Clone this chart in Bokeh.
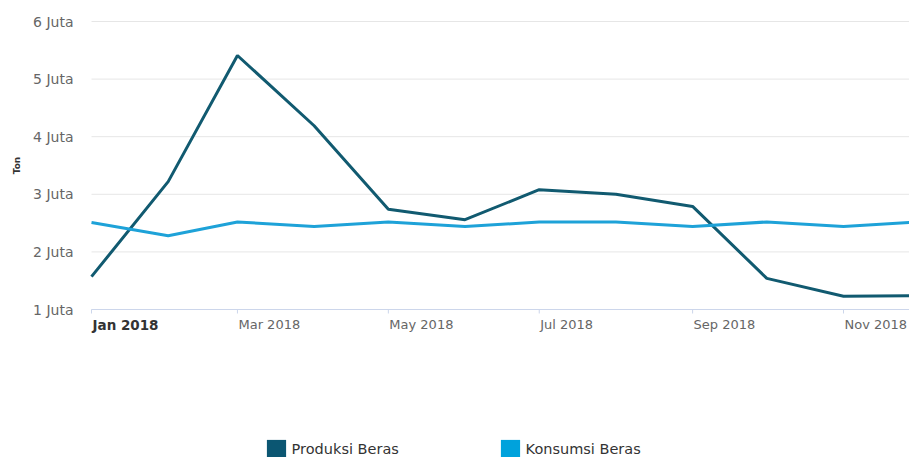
import math
import pandas as pd
from bokeh.plotting import figure
from bokeh.models import Range1d, Label, Legend, LegendItem
from bokeh.embed import file_html
from bokeh.resources import INLINE

# ---- data ----
months = ["2018-01-01", "2018-02-01", "2018-03-01", "2018-04-01", "2018-05-01",
          "2018-06-01", "2018-07-01", "2018-08-01", "2018-09-01", "2018-10-01",
          "2018-11-01", "2018-12-01"]
produksi_beras = [1.57, 3.22, 5.41, 4.19, 2.74, 2.56, 3.08, 3.00, 2.79, 1.54, 1.23, 1.24]
konsumsi_beras = [2.51, 2.28, 2.52, 2.44, 2.52, 2.44, 2.52, 2.52, 2.44, 2.52, 2.44, 2.52]
y_ticks = [1, 2, 3, 4, 5, 6]
y_tick_labels = ["1 Juta", "2 Juta", "3 Juta", "4 Juta", "5 Juta", "6 Juta"]
x_tick_months = ["2018-01-01", "2018-03-01", "2018-05-01", "2018-07-01",
                 "2018-09-01", "2018-11-01"]
x_tick_labels = ["Jan 2018", "Mar 2018", "May 2018", "Jul 2018", "Sep 2018", "Nov 2018"]
y_axis_title = "Ton"
series_names = ["Produksi Beras", "Konsumsi Beras"]
colors = ["#115a70", "#1ea2d8"]
legend_colors = ["#0b5672", "#00a2dc"]

# ---- layout constants (pixels) ----
W, H = 909, 457
plot_left, plot_top, plot_bottom = 91, 21, 309
px_per_day = 2.4737

epoch = pd.Timestamp("1970-01-01")
def to_ms(s):
    return float((pd.Timestamp(s) - epoch) / pd.Timedelta(milliseconds=1))

day_ms = 86400000.0
x_dates = pd.to_datetime(months)
tick_ms = [to_ms(m) for m in x_tick_months]
x_first = to_ms(months[0])
x_start = x_first - plot_left / px_per_day * day_ms
x_end = x_start + W / px_per_day * day_ms

px_per_unit = (plot_bottom - plot_top) / (y_ticks[-1] - y_ticks[0])
y_start = y_ticks[0] - (H - plot_bottom) / px_per_unit
y_end = y_ticks[-1] + plot_top / px_per_unit

p = figure(width=W, height=H, x_axis_type="datetime",
           x_range=Range1d(x_start, x_end), y_range=Range1d(y_start, y_end),
           output_backend="svg", toolbar_location=None,
           min_border=0, min_border_left=0, min_border_right=0,
           min_border_top=0, min_border_bottom=0)
p.outline_line_color = None
p.xaxis.visible = False
p.yaxis.visible = False
p.xgrid.grid_line_color = None
p.ygrid.grid_line_color = None
p.background_fill_color = "white"
p.border_fill_color = "white"

# horizontal grid lines
p.segment(x0=[x_first] * len(y_ticks), x1=[x_end] * len(y_ticks),
          y0=y_ticks, y1=y_ticks, line_color="#e6e6e6", line_width=1)
# x axis line and tick marks
p.segment(x0=[x_first], x1=[x_end], y0=[y_ticks[0]], y1=[y_ticks[0]],
          line_color="#ccd6eb", line_width=1)
tick_len = 4 / px_per_unit
p.segment(x0=tick_ms, x1=tick_ms, y0=[y_ticks[0]] * len(tick_ms),
          y1=[y_ticks[0] - tick_len] * len(tick_ms), line_color="#ccd6eb", line_width=1)

# series
p.line(x_dates, produksi_beras, line_color=colors[0], line_width=3)
p.line(x_dates, konsumsi_beras, line_color=colors[1], line_width=3)

# y tick labels
for v, lab in zip(y_ticks, y_tick_labels):
    p.add_layout(Label(x=73, x_units="screen", y=v, text=lab,
                       text_align="right", text_baseline="middle",
                       text_font="DejaVu Sans", text_font_size="14px",
                       text_color="#666666"))
# y axis title
p.add_layout(Label(x=16, x_units="screen", y=(y_ticks[0] + y_ticks[-1]) / 2,
                   text=y_axis_title, angle=math.pi / 2,
                   text_align="center", text_baseline="middle",
                   text_font="DejaVu Sans", text_font_size="9px",
                   text_font_style="bold", text_color="#333333"))

# x tick labels (left aligned at tick, first one bold)
for ms, lab in zip(tick_ms, x_tick_labels):
    bold = lab == x_tick_labels[0]
    p.add_layout(Label(x=ms, y=y_ticks[0], y_offset=-15, text=lab, x_offset=1,
                       text_align="left", text_baseline="middle",
                       text_font="DejaVu Sans",
                       text_font_size="13.5px" if bold else "13px",
                       text_font_style="bold" if bold else "normal",
                       text_color="#333333" if bold else "#666666"))

# legend (two separate legends for exact placement); proxy renderers draw nothing
nan = float("nan")
leg_x = [263.6, 497.6]
for name, col, lx in zip(series_names, legend_colors, leg_x):
    r = p.quad(left=[nan], right=[nan], top=[nan], bottom=[nan],
               fill_color=col, line_color=None)
    leg = Legend(items=[LegendItem(label=name, renderers=[r])],
                 location=(lx, -3.6), orientation="horizontal",
                 padding=0, margin=0, spacing=0,
                 glyph_width=24, glyph_height=24, label_standoff=4,
                 label_text_font="DejaVu Sans", label_text_font_size="14.5px",
                 label_text_color="#333333",
                 border_line_color=None, background_fill_alpha=0)
    p.add_layout(leg)

open("out.html", "w").write(file_html(p, INLINE))
